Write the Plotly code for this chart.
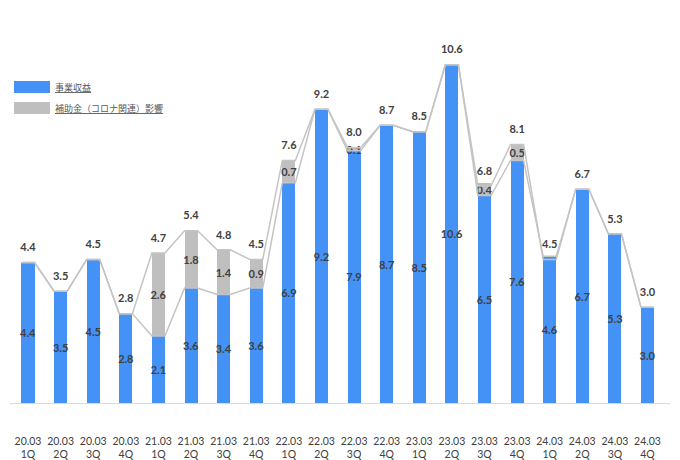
import plotly.graph_objects as go

periods = ["20.03", "20.03", "20.03", "20.03", "21.03", "21.03", "21.03", "21.03",
           "22.03", "22.03", "22.03", "22.03", "23.03", "23.03", "23.03", "23.03",
           "24.03", "24.03", "24.03", "24.03"]
quarters = ["1Q", "2Q", "3Q", "4Q"] * 5
business = [4.4, 3.5, 4.5, 2.8, 2.1, 3.6, 3.4, 3.6, 6.9, 9.2, 7.9, 8.7, 8.5, 10.6, 6.5, 7.6, 4.6, 6.7, 5.3, 3.0]
subsidy = [0, 0, 0, 0, 2.6, 1.8, 1.4, 0.9, 0.7, 0, 0.1, 0, 0, 0, 0.4, 0.5, 0, 0, 0, 0]
totals = [4.4, 3.5, 4.5, 2.8, 4.7, 5.4, 4.8, 4.5, 7.6, 9.2, 8.0, 8.7, 8.5, 10.6, 6.8, 8.1, 4.5, 6.7, 5.3, 3.0]
names = ["事業収益", "補助金（コロナ関連）影響"]

BLUE = "#4492f6"
GRAY = "#bfbfbf"
LINE = "#c4c4c4"
TXT = "#404040"
FONT = "Lato, Open Sans, sans-serif"
W = 0.4

idx = list(range(len(business)))
ticktext = [f"{p}<br>{q}" for p, q in zip(periods, quarters)]


def step_xy(vals):
    xs, ys = [], []
    for i, v in zip(idx, vals):
        xs += [i - W / 2, i + W / 2]
        ys += [v, v]
    return xs, ys


fig = go.Figure()

# series lines (drawn first so they sit beneath the bars)
for vals in (business, totals):
    xs, ys = step_xy(vals)
    fig.add_trace(go.Scatter(x=xs, y=ys, mode="lines", line=dict(color=LINE, width=1.5),
                             showlegend=False, hoverinfo="skip"))

fig.add_trace(go.Bar(
    x=idx, y=business, name=names[0], marker=dict(color=BLUE, line=dict(width=0)),
    width=W, text=[f"{v:.1f}" for v in business], textposition="inside",
    insidetextanchor="middle", textangle=0, constraintext="none",
    insidetextfont=dict(family=FONT, size=11, color=TXT, weight="bold"), showlegend=False))
fig.add_trace(go.Bar(
    x=idx, y=subsidy, name=names[1], marker=dict(color=GRAY, line=dict(width=0)),
    width=W, text=[f"{v:.1f}" if v > 0 else "" for v in subsidy], textposition="inside",
    insidetextanchor="middle", textangle=0, constraintext="none",
    insidetextfont=dict(family=FONT, size=11, color=TXT, weight="bold"), showlegend=False))

fig.add_trace(go.Scatter(
    x=idx, y=totals, mode="markers+text", text=[f"{v:.1f}" for v in totals],
    marker=dict(size=12, opacity=0),
    textposition="top center", textfont=dict(family=FONT, size=11, color=TXT, weight="bold"),
    showlegend=False, hoverinfo="skip"))

# custom legend (wide swatches like the original)
ML, MR, MT, MB = 10, 10, 20, 57
PW, PH = 680 - ML - MR, 460 - MT - MB


def px_x(p):
    return (p - ML) / PW


def px_y(p):
    return (460 - MB - p) / PH


for k, (col, nm) in enumerate(zip([BLUE, GRAY], names)):
    y0 = 81 + k * 21
    fig.add_shape(type="rect", xref="paper", yref="paper",
                  x0=px_x(14), x1=px_x(50), y0=px_y(y0 + 12), y1=px_y(y0),
                  fillcolor=col, line=dict(width=0))
    fig.add_annotation(xref="paper", yref="paper", x=px_x(53), y=px_y(y0 + 6),
                       text=f"<u>{nm}</u>", showarrow=False, xanchor="left", yanchor="middle",
                       font=dict(family="Noto Sans CJK JP", size=9, color="#595959"))

fig.update_layout(
    width=680, height=460,
    margin=dict(l=ML, r=MR, t=MT, b=MB, autoexpand=False),
    paper_bgcolor="white", plot_bgcolor="white",
    barmode="stack", bargap=0.6,
    font=dict(family=FONT, color=TXT),
)
fig.update_xaxes(range=[-0.552, 19.69], tickvals=idx, ticktext=ticktext, showgrid=False,
                 zeroline=False, showline=True, linecolor="#d9d9d9", linewidth=1, ticks="",
                 automargin=False,
                 ticklabelstandoff=28, tickfont=dict(family=FONT, size=10.5, color="#404040"))
fig.update_yaxes(range=[0, 12.0], visible=False, showgrid=False, zeroline=False, automargin=False)

fig.write_html("out.html")
